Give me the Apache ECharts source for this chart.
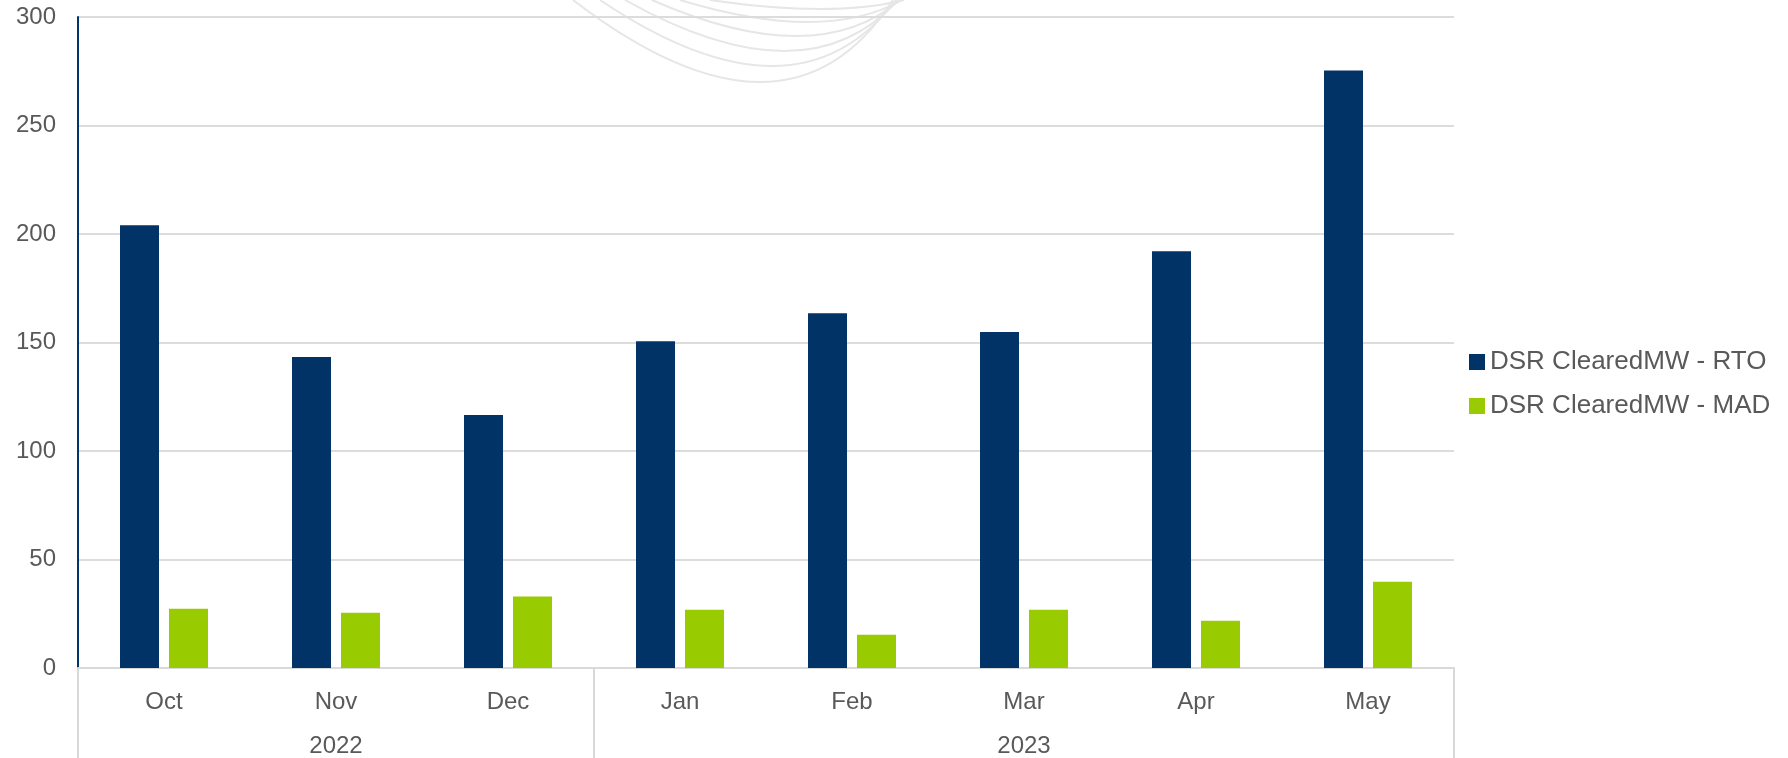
<!DOCTYPE html>
<html>
<head>
<meta charset="utf-8">
<script src="https://cdn.jsdelivr.net/npm/echarts@6/dist/echarts.min.js"></script>
<style>
  html, body { margin: 0; padding: 0; background: #fff; }
  #chart { width: 1788px; height: 758px; }
</style>
</head>
<body>
<div id="chart"></div>
<script>
// 月份和年份
var months = ['Oct', 'Nov', 'Dec', 'Jan', 'Feb', 'Mar', 'Apr', 'May'];
var years = ['', '2022', '', '', '', '2023', '', ''];
// 数据
var rtoData = [204, 143.3, 116.6, 150.6, 163.5, 154.8, 192, 275.3];
var madData = [27.3, 25.5, 33, 26.8, 15.3, 26.8, 21.8, 39.7];
var seriesNames = ['DSR ClearedMW - RTO', 'DSR ClearedMW - MAD'];

var textColor = '#595959';
var fontFamily = 'Arial, "Liberation Sans", sans-serif';

var myChart = echarts.init(document.getElementById('chart'));

// 背景水印弧线
var arcs = [];
var arcDefs = [[573, 893, 760, 82], [600, 896, 772, 66], [625, 898, 784, 51], [652, 900, 796, 36], [680, 902, 808, 22], [710, 904, 820, 9]];
arcDefs.forEach(function (a) {
    arcs.push({
        type: 'bezierCurve',
        silent: true,
        z: -1,
        shape: {
            x1: a[0], y1: 0,
            x2: a[1], y2: 0,
            cpx1: (a[2] * 4 - a[0] - a[1]) / 2, cpy1: a[3] * 2
        },
        style: { stroke: '#e6e6e6', lineWidth: 2, fill: null }
    });
});

var option = {
    animation: false,
    color: ['#023366', '#99cc00'],
    textStyle: { fontFamily: fontFamily },
    graphic: arcs,
    grid: {
        left: 78,
        right: 334,
        top: 17,
        bottom: 89,
        containLabel: false
    },
    legend: {
        orient: 'vertical',
        left: 1464,
        top: 344,
        icon: 'rect',
        itemWidth: 16,
        itemHeight: 16,
        itemGap: 18,
        textStyle: { color: textColor, fontSize: 26, fontFamily: fontFamily },
        data: seriesNames
    },
    xAxis: [{
        type: 'category',
        position: 'bottom',
        data: months,
        axisLine: { lineStyle: { color: '#d9d9d9', width: 2 } },
        axisTick: { show: false },
        axisLabel: { color: textColor, fontSize: 24, margin: 22 }
    }, {
        type: 'category',
        position: 'bottom',
        data: years,
        axisLine: { show: false },
        axisTick: {
            show: true,
            length: 100,
            interval: function (index) { return index === 0 || index === 3; },
            lineStyle: { color: '#d9d9d9', width: 2 }
        },
        axisLabel: { color: textColor, fontSize: 24, margin: 66, interval: 0 }
    }],
    yAxis: {
        type: 'value',
        min: 0,
        max: 300,
        interval: 50,
        axisLine: { show: true, lineStyle: { color: '#03356b', width: 2 } },
        axisTick: { show: false },
        axisLabel: { color: textColor, fontSize: 24, margin: 22, padding: [5, 0, 0, 0] },
        splitLine: { lineStyle: { color: '#dcdcdc', width: 2 } }
    },
    series: [{
        name: seriesNames[0],
        type: 'bar',
        barWidth: 39,
        barGap: '25.6%',
        data: rtoData
    }, {
        name: seriesNames[1],
        type: 'bar',
        barWidth: 39,
        data: madData
    }]
};

myChart.setOption(option);
</script>
</body>
</html>
